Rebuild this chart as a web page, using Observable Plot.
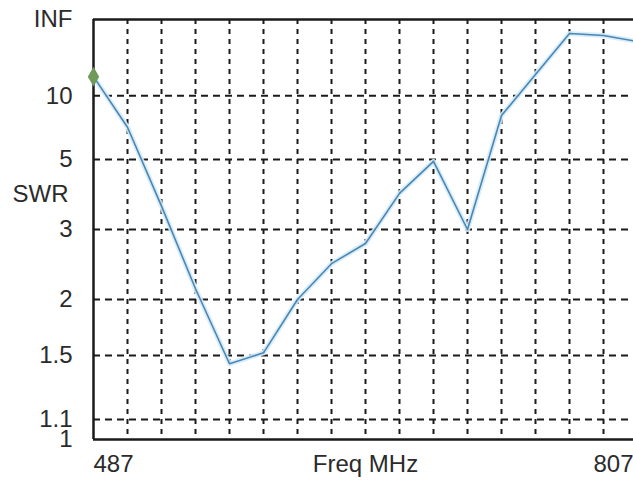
<!DOCTYPE html>
<html>
<head>
<meta charset="utf-8">
<script src="https://cdn.jsdelivr.net/npm/d3@7"></script>
<script src="https://cdn.jsdelivr.net/npm/@observablehq/plot@0.6"></script>
<style>
  html, body { margin: 0; padding: 0; background: #fff; overflow: hidden; }
</style>
</head>
<body>
<div id="chart"></div>
<script>
// Frequencies (MHz) of the sweep points
const freqs = [487, 507, 527, 547, 567, 587, 607, 627, 647, 667, 687, 707, 727, 747, 767, 787, 807];
// SWR readings at each frequency
const swrValues = [13.7, 6.8, 3.5, 2.12, 1.44, 1.52, 2.0, 2.44, 2.75, 3.83, 4.92, 3.0, 7.75, 14.3, 59, 51.5, 37.2];
// Y axis ticks (SWR) and labels
const swrTicks = [1, 1.1, 1.5, 2, 3, 5, 10, Infinity];
const swrTickLabels = ["1", "1.1", "1.5", "2", "3", "5", "10", "INF"];
const swrGrid = [1.1, 1.5, 2, 3, 5, 10];
// X grid and labels
const freqGrid = [507, 527, 547, 567, 587, 607, 627, 647, 667, 687, 707, 727, 747, 767, 787];
const xLabelStart = [{f: 487, label: "487"}];
const xLabelMid = [{f: 647, label: "Freq MHz"}];
const xLabelEnd = [{f: 807, label: "807"}];

// SWR -> reflection coefficient magnitude (chart's vertical scale)
const gamma = s => s === Infinity ? 1 : (s - 1) / (s + 1);

const data = freqs.map((f, i) => ({f, swr: swrValues[i]}));
const tickGammas = swrTicks.map(gamma);
const labelOf = new Map(tickGammas.map((g, i) => [g, swrTickLabels[i]]));
const swrLabelPos = (gamma(5) + gamma(3)) / 2;

const font = "'Liberation Sans', Arial, sans-serif";
const ink = "#2b2b2b";

const chart = Plot.plot({
  width: 633,
  height: 487,
  marginLeft: 93,
  marginRight: 0,
  marginTop: 19,
  marginBottom: 48,
  x: {domain: [487, 807], range: [93, 637], axis: null},
  y: {domain: [0, 1], range: [439, 19], axis: null},
  style: {fontFamily: font, fontSize: "24px", background: "#fff", overflow: "hidden", color: ink},
  marks: [
    Plot.ruleX(freqGrid, {stroke: "#1a1a1a", strokeWidth: 2, strokeDasharray: "5,5"}),
    Plot.ruleY(swrGrid.map(gamma), {stroke: "#1a1a1a", strokeWidth: 2, strokeDasharray: "7,5"}),
    Plot.ruleX([487], {stroke: "#1a1a1a", strokeWidth: 2.5}),
    Plot.ruleY([0, 1], {stroke: "#1a1a1a", strokeWidth: 2.5}),
    Plot.line(data, {x: "f", y: d => gamma(d.swr), stroke: "#d4ebf7", strokeWidth: 5, strokeOpacity: 0.9}),
    Plot.line(data, {x: "f", y: d => gamma(d.swr), stroke: "#4a86b5", strokeWidth: 1.6}),
    Plot.dot([data[0]], {x: "f", y: d => gamma(d.swr), symbol: "diamond", r: 6, fill: "#71995a", stroke: "none"}),
    Plot.axisY(tickGammas, {
      tickSize: 0, tickPadding: 21, label: null,
      tickFormat: g => labelOf.get(g),
      fontSize: 24, fill: ink
    }),
    Plot.text([swrLabelPos], {y: d => d, text: () => "SWR", frameAnchor: "left", dx: -25, textAnchor: "end", fontSize: 24, fill: ink}),
    Plot.text(xLabelStart, {x: "f", text: "label", frameAnchor: "bottom", dy: 32, textAnchor: "start", fontSize: 24, fill: ink}),
    Plot.text(xLabelMid, {x: "f", text: "label", frameAnchor: "bottom", dy: 32, textAnchor: "middle", fontSize: 24, fill: ink}),
    Plot.text(xLabelEnd, {x: "f", text: "label", frameAnchor: "bottom", dy: 32, dx: -4, textAnchor: "end", fontSize: 24, fill: ink})
  ]
});
document.getElementById("chart").appendChild(chart);
</script>
</body>
</html>
